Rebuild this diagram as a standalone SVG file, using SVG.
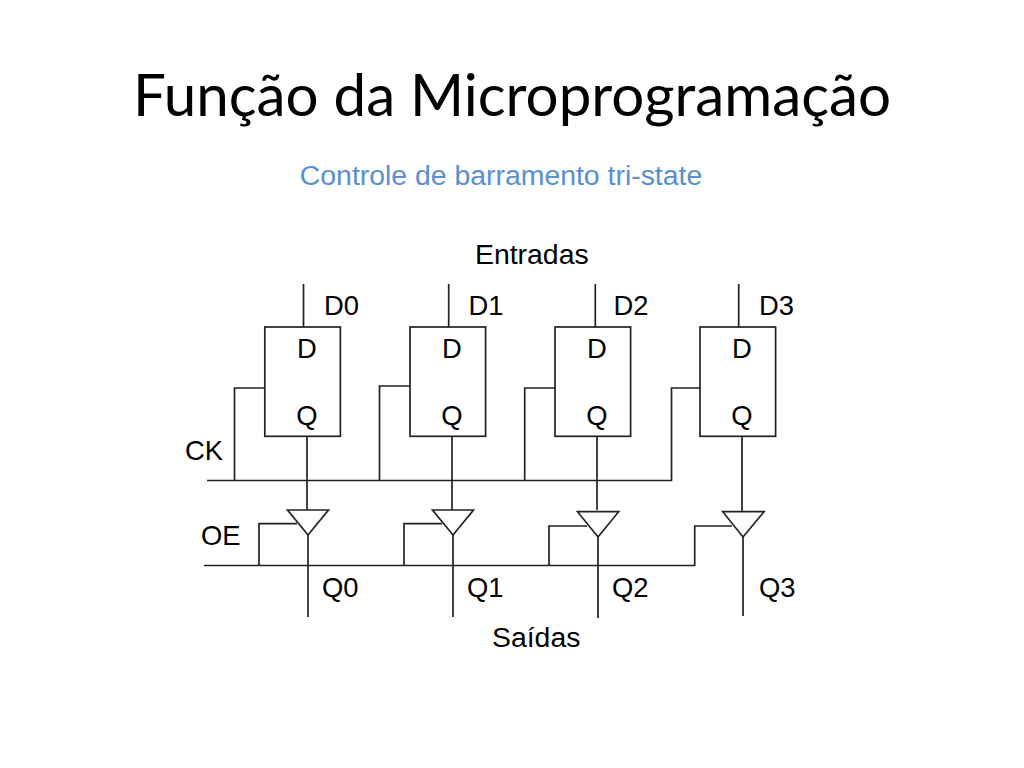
<svg xmlns="http://www.w3.org/2000/svg" width="1024" height="768" viewBox="0 0 1024 768">
<style>
.t{font-family:"Liberation Sans",Arial,sans-serif;font-size:27.4px;fill:#000}
.l{font-size:28.4px}
.b{fill:#fff;stroke:#222;stroke-width:1.7}
.w{fill:none;stroke:#222;stroke-width:1.7}
</style>
<rect width="1024" height="768" fill="#fff"/>
<text id="title" x="512" y="116" text-anchor="middle" style="font-family:Lato,'Open Sans',sans-serif;font-size:58.3px;fill:#000">Função da Microprogramação</text>
<text id="subtitle" x="501" y="185" text-anchor="middle" style="font-family:'Liberation Sans',Arial,sans-serif;font-size:28.4px;fill:#5a8fd0">Controle de barramento tri-state</text>
<g id="connectors">
<path class="w" d="M303.5 284V327M448.7 284V327M595.3 284V327M738.7 284V327"/>
<path class="w" d="M307 437V510M452 437V510M597 437V510M742 437V511"/>
<path class="w" d="M207 480.5H671.5V388H700M234.5 480.5V388H265M379.5 480.5V386H410M524.7 480.5V388H555"/>
<path class="w" d="M204 565.5H694.7V526H732M259 565.5V523.7H297M404 565.5V523.7H442M549 565.5V526H587"/>
<path class="w" d="M308 535V617M453 535V617M598 537V618M743 537V616"/>
</g>
<g id="ff0"><rect class="b" x="264.8" y="327" width="75.6" height="109.3"/><text class="t" x="307" y="358" text-anchor="middle">D</text><text class="t" x="307" y="425" text-anchor="middle">Q</text></g>
<g id="ff1"><rect class="b" x="410" y="327" width="75.6" height="109.3"/><text class="t" x="452" y="358" text-anchor="middle">D</text><text class="t" x="452" y="425" text-anchor="middle">Q</text></g>
<g id="ff2"><rect class="b" x="555" y="327" width="75.6" height="109.3"/><text class="t" x="597" y="358" text-anchor="middle">D</text><text class="t" x="597" y="425" text-anchor="middle">Q</text></g>
<g id="ff3"><rect class="b" x="700" y="327" width="75.6" height="109.3"/><text class="t" x="742" y="358" text-anchor="middle">D</text><text class="t" x="742" y="425" text-anchor="middle">Q</text></g>
<g id="buf0"><polygon class="b" points="287.5,510 328.5,510 308,535"/></g>
<g id="buf1"><polygon class="b" points="432.5,510 473.5,510 453,535"/></g>
<g id="buf2"><polygon class="b" points="577.5,511.7 618.7,511.7 598,537"/></g>
<g id="buf3"><polygon class="b" points="722.7,511.7 764,511.7 743,537"/></g>
<g id="labels">
<text class="t l" x="475" y="264">Entradas</text>
<text class="t" x="324" y="315">D0</text>
<text class="t" x="468.5" y="315">D1</text>
<text class="t" x="613.5" y="315">D2</text>
<text class="t" x="759" y="315">D3</text>
<text class="t" x="185" y="460">CK</text>
<text class="t" x="201" y="545">OE</text>
<text class="t" x="322" y="597">Q0</text>
<text class="t" x="467" y="597">Q1</text>
<text class="t" x="612" y="597">Q2</text>
<text class="t" x="759" y="597">Q3</text>
<text class="t l" x="492" y="647">Saídas</text>
</g>
</svg>
